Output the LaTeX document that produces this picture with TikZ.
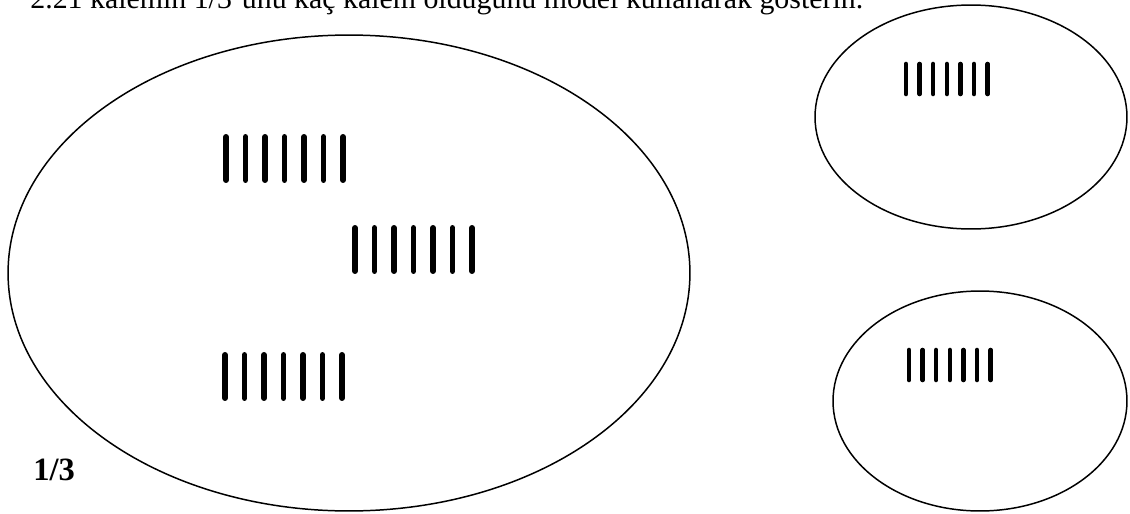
\documentclass[tikz,border=0pt]{standalone}
\usepackage{fontspec}
\setmainfont{Liberation Serif}
\usetikzlibrary{shapes.geometric, positioning}

\begin{document}
\begin{tikzpicture}[
        x = 0.02cm, y = -0.02cm,
        set/.style = {ellipse, draw, line width = 0.85pt, inner sep = 0pt},
        bigbar/.style = {line width = 3.4pt, line cap = round},
        smallbar/.style = {line width = 2.6pt, line cap = round},
        lab/.style = {font = \fontsize{17}{20}\selectfont, inner sep = 0pt}
    ]
        \useasboundingbox (0, 0) rectangle (1130, 514);
        \clip (0, 0) rectangle (1130, 514);

        % cut-off task line at the top
        \node[lab, anchor = base west] (task) at (30, 8) {2.21 kalemin 1/3'ünü kaç kalem olduğunu model kullanarak gösterin.};

        \node[set, minimum width = 13.64cm, minimum height = 9.52cm] (whole) at (349, 273) {};
        \node[set, minimum width = 6.24cm, minimum height = 4.48cm] (partA) at (971, 117) {};
        \node[set, minimum width = 5.88cm, minimum height = 4.40cm] (partB) at (980, 401) {};

        % tallies of seven
        \foreach \gx/\gy in {226/135, 355/226, 225/353}
            \foreach \k in {0, ..., 6}
                \draw[bigbar] (\gx + 19.5 * \k, \gy + 2) -- (\gx + 19.5 * \k, \gy + 45);
        \foreach \gx/\gy in {906/62, 909/348}
            \foreach \k in {0, ..., 6}
                \draw[smallbar] (\gx + 13.6 * \k, \gy + 2) -- (\gx + 13.6 * \k, \gy + 32);

        \node[lab, anchor = base west, font = \fontsize{18.5}{20}\selectfont\bfseries] (frac) at (33, 480) {1/3};
    \end{tikzpicture}
\end{document}
